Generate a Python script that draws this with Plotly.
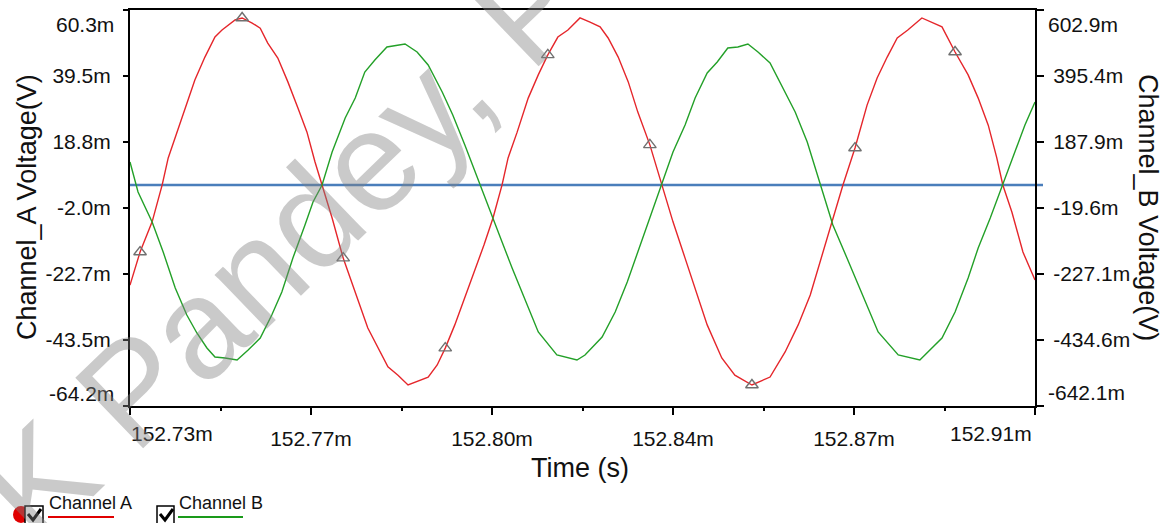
import numpy as np
import plotly.graph_objects as go

# ---------------- data (time in ms, voltages in mV) ----------------
time_a = [152.7300, 152.7320, 152.7344, 152.7364, 152.7376, 152.7393, 152.7413, 152.7429, 152.7449, 152.7469,
          152.7483, 152.7509, 152.7523, 152.7543, 152.7559, 152.7574, 152.7594, 152.7614, 152.7634, 152.7652,
          152.7668, 152.7682, 152.7702, 152.7724, 152.7748, 152.7773, 152.7813, 152.7833, 152.7853, 152.7867,
          152.7893, 152.7911, 152.7927, 152.7946, 152.7966, 152.7986, 152.8004, 152.8022, 152.8040, 152.8052,
          152.8070, 152.8092, 152.8112, 152.8131, 152.8151, 152.8171, 152.8195, 152.8215, 152.8235, 152.8251,
          152.8271, 152.8291, 152.8310, 152.8334, 152.8358, 152.8380, 152.8404, 152.8428, 152.8448, 152.8477,
          152.8503, 152.8537, 152.8573, 152.8603, 152.8629, 152.8653, 152.8672, 152.8696, 152.8718, 152.8742,
          152.8766, 152.8786, 152.8806, 152.8826, 152.8847, 152.8875, 152.8915, 152.8941, 152.8967, 152.8987,
          152.9007, 152.9024, 152.9036, 152.9054, 152.9076, 152.9100]
channel_a_mv = [-26.2, -15.8, -6.3, 5.3, 13.8, 21.9, 31.1, 38.3, 45.5, 51.8,
                54.0, 57.2, 57.8, 56.2, 54.6, 49.9, 45.2, 37.7, 29.5, 21.9,
                12.5, 5.3, -5.1, -17.7, -28.4, -39.7, -51.9, -54.5, -57.6, -56.7,
                -55.1, -51.3, -46.0, -38.7, -30.2, -21.4, -13.6, -5.1, 5.3, 13.8,
                21.9, 32.6, 39.9, 46.2, 51.8, 54.0, 57.8, 56.5, 55.0, 51.5,
                45.5, 37.7, 28.2, 17.9, 5.3, -6.3, -17.7, -29.3, -38.7, -49.1,
                -54.5, -57.6, -55.1, -47.2, -38.7, -29.3, -19.2, -6.3, 5.3, 16.9,
                30.4, 38.9, 45.5, 51.5, 54.0, 57.8, 55.0, 47.1, 39.9, 32.6,
                24.1, 13.8, 5.3, -3.2, -15.8, -24.6]

time_b = [152.7300, 152.7316, 152.7344, 152.7366, 152.7390, 152.7413, 152.7433, 152.7453, 152.7469, 152.7489,
          152.7513, 152.7535, 152.7559, 152.7582, 152.7602, 152.7624, 152.7648, 152.7664, 152.7682, 152.7702,
          152.7728, 152.7748, 152.7767, 152.7787, 152.7811, 152.7847, 152.7871, 152.7893, 152.7921, 152.7942,
          152.7966, 152.7996, 152.8020, 152.8040, 152.8060, 152.8082, 152.8112, 152.8149, 152.8189, 152.8205,
          152.8239, 152.8265, 152.8289, 152.8310, 152.8334, 152.8358, 152.8380, 152.8404, 152.8424, 152.8448,
          152.8468, 152.8489, 152.8509, 152.8529, 152.8549, 152.8573, 152.8597, 152.8623, 152.8647, 152.8672,
          152.8698, 152.8726, 152.8746, 152.8766, 152.8788, 152.8828, 152.8847, 152.8871, 152.8915, 152.8941,
          152.8967, 152.8987, 152.9011, 152.9036, 152.9060, 152.9080, 152.9100]
channel_b_mv = [125.0, 30.7, -63.6, -157.9, -271.1, -356.0, -412.6, -459.7, -488.0, -491.2,
                -497.5, -466.0, -428.3, -356.0, -283.7, -176.8, -73.0, -0.7, 52.7, 156.5,
                263.4, 326.2, 408.0, 445.7, 486.6, 496.0, 470.9, 430.0, 345.1, 272.8,
                178.5, 52.7, -41.6, -126.5, -208.2, -293.1, -409.4, -481.7, -497.5, -481.7,
                -425.2, -346.6, -252.2, -157.9, -51.0, 52.7, 156.5, 241.4, 326.2, 404.8,
                439.4, 483.4, 486.6, 496.0, 470.9, 436.3, 360.8, 282.2, 187.9, 59.0,
                -73.0, -176.8, -252.2, -324.6, -409.4, -481.7, -488.0, -497.5, -428.3, -346.6,
                -239.7, -145.3, -51.0, 52.7, 156.5, 241.4, 313.7]

marker_time = [152.7320, 152.7523, 152.7724, 152.7927, 152.8131, 152.8334, 152.8537, 152.8742, 152.8941]
marker_a_mv = [-15.8, 57.8, -17.7, -46.0, 46.2, 17.9, -57.6, 16.9, 47.1]

baseline_a_mv = 5.3

x_range = [152.73, 152.91]
x_tick_text = ["152.73m", "152.77m", "152.80m", "152.84m", "152.87m", "152.91m"]
ya_range = [-64.2, 60.3]
ya_tick_text = ["-64.2m", "-43.5m", "-22.7m", "-2.0m", "18.8m", "39.5m", "60.3m"]
yb_range = [-642.1, 602.9]
yb_tick_text = ["-642.1m", "-434.6m", "-227.1m", "-19.6m", "187.9m", "395.4m", "602.9m"]

# ---------------- figure ----------------
W, H = 1163, 523
L, R, T, B = 130, 128, 10, 117
PW, PH = W - L - R, H - T - B


def px(xp):
    return (xp - L) / PW


def py(yp):
    return (H - B - yp) / PH


FONT = "Liberation Sans, Arial, sans-serif"
TICK_SIZE = 21
x_ticks = list(np.linspace(x_range[0], x_range[1], 6))
x_minor = [(x_ticks[i] + x_ticks[i + 1]) / 2 for i in range(5)]
ya_ticks = list(np.linspace(ya_range[0], ya_range[1], 7))
yb_ticks = list(np.linspace(yb_range[0], yb_range[1], 7))

fig = go.Figure()
fig.add_trace(go.Scatter(x=time_a, y=channel_a_mv, mode="lines", name="Channel A",
                         line=dict(color="#e5262b", width=1.4), yaxis="y"))
fig.add_trace(go.Scatter(x=time_b, y=channel_b_mv, mode="lines", name="Channel B",
                         line=dict(color="#23a028", width=1.4), yaxis="y2"))
fig.add_trace(go.Scatter(x=marker_time, y=marker_a_mv, mode="markers", name="markers",
                         marker=dict(symbol="triangle-up-open", size=11, color="#707070",
                                     line=dict(width=1.4, color="#707070")), yaxis="y"))

axis_common = dict(showgrid=False, zeroline=False, showline=True, linecolor="black", linewidth=2,
                   ticks="outside", tickcolor="black", tickwidth=2, automargin=False,
                   tickfont=dict(family=FONT, size=TICK_SIZE, color="#111"))

fig.update_layout(
    width=W, height=H,
    margin=dict(l=L, r=R, t=T, b=B, pad=0, autoexpand=False),
    paper_bgcolor="white", plot_bgcolor="white",
    showlegend=False,
    font=dict(family=FONT, size=20, color="#111"),
    xaxis=dict(range=x_range, tickvals=x_ticks,
               ticktext=[""] + x_tick_text[1:-1] + [""],
               ticklen=7, mirror=True, ticklabelstandoff=6,
               minor=dict(tickvals=x_minor, ticklen=3, ticks="outside", tickcolor="black", tickwidth=1.5),
               **axis_common),
    yaxis=dict(range=ya_range, tickvals=ya_ticks,
               ticktext=[""] + ya_tick_text[1:-1] + [""],
               ticklen=5, ticklabelstandoff=8, **axis_common),
    yaxis2=dict(range=yb_range, tickvals=yb_ticks,
                ticktext=[""] + yb_tick_text[1:-1] + [""],
                overlaying="y", side="right",
                ticklen=7, ticklabelstandoff=5, **axis_common),
)

shapes = []
# blue reference line (extends slightly past the right axis)
shapes.append(dict(type="line", xref="paper", yref="y", x0=0, x1=px(1043),
                   y0=baseline_a_mv, y1=baseline_a_mv, line=dict(color="#4a7ebb", width=2.5), layer="below"))
# legend decorations
shapes.append(dict(type="circle", xref="paper", yref="paper", x0=px(13), x1=px(29), y0=py(523), y1=py(506),
                   fillcolor="#e00000", line=dict(width=0)))
for x0, x1 in [(25, 43), (157, 174)]:
    shapes.append(dict(type="rect", xref="paper", yref="paper", x0=px(x0), x1=px(x1), y0=py(528), y1=py(506),
                       fillcolor="white", line=dict(color="black", width=1.5)))
for cx in [25, 157]:
    pts = [(cx + 3, 514), (cx + 8, 520), (cx + 16, 509)]
    path = "M {} {} L {} {} L {} {}".format(px(pts[0][0]), py(pts[0][1]), px(pts[1][0]), py(pts[1][1]),
                                            px(pts[2][0]), py(pts[2][1]))
    shapes.append(dict(type="path", xref="paper", yref="paper", path=path, line=dict(color="black", width=3)))
shapes.append(dict(type="line", xref="paper", yref="paper", x0=px(48), x1=px(114), y0=py(517), y1=py(517),
                   line=dict(color="#e00000", width=2)))
shapes.append(dict(type="line", xref="paper", yref="paper", x0=px(178), x1=px(243), y0=py(517), y1=py(517),
                   line=dict(color="#1a9a1a", width=2)))
fig.update_layout(shapes=shapes)

ann = []
tf = dict(family=FONT, size=TICK_SIZE, color="#111")
# end tick labels pulled inside
ann.append(dict(text=ya_tick_text[-1], xref="paper", yref="paper", x=px(116), y=py(25),
                xanchor="right", yanchor="middle", showarrow=False, font=tf))
ann.append(dict(text=ya_tick_text[0], xref="paper", yref="paper", x=px(116), y=py(393),
                xanchor="right", yanchor="middle", showarrow=False, font=tf))
ann.append(dict(text=yb_tick_text[-1], xref="paper", yref="paper", x=px(1046), y=py(25),
                xanchor="left", yanchor="middle", showarrow=False, font=tf))
ann.append(dict(text=yb_tick_text[0], xref="paper", yref="paper", x=px(1046), y=py(392),
                xanchor="left", yanchor="middle", showarrow=False, font=tf))
ann.append(dict(text=x_tick_text[0], xref="paper", yref="paper", x=px(129), y=py(433),
                xanchor="left", yanchor="middle", showarrow=False, font=tf))
ann.append(dict(text=x_tick_text[-1], xref="paper", yref="paper", x=px(1034), y=py(433),
                xanchor="right", yanchor="middle", showarrow=False, font=tf))
# axis titles
titf = dict(family=FONT, size=27, color="#111")
ann.append(dict(text="Time (s)", xref="paper", yref="paper", x=px(580), y=py(468),
                xanchor="center", yanchor="middle", showarrow=False, font=titf))
ann.append(dict(text="Channel_A Voltage(V)", xref="paper", yref="paper", x=px(27), y=py(207),
                xanchor="center", yanchor="middle", textangle=-90, showarrow=False, font=titf))
ann.append(dict(text="Channel_B Voltage(V)", xref="paper", yref="paper", x=px(1148), y=py(207),
                xanchor="center", yanchor="middle", textangle=90, showarrow=False, font=titf))
# legend labels
lf = dict(family=FONT, size=18, color="#111")
ann.append(dict(text="Channel A", xref="paper", yref="paper", x=px(47), y=py(503),
                xanchor="left", yanchor="middle", showarrow=False, font=lf))
ann.append(dict(text="Channel B", xref="paper", yref="paper", x=px(177), y=py(503),
                xanchor="left", yanchor="middle", showarrow=False, font=lf))
# watermark
ann.append(dict(text="K Pandey, P", xref="paper", yref="paper", x=px(284), y=py(244),
                xanchor="center", yanchor="middle", textangle=-44, showarrow=False,
                font=dict(family=FONT, size=142, color="rgba(128,128,128,0.42)")))
fig.update_layout(annotations=ann)

fig.write_html(
    "out.html",
    config={"displayModeBar": False},
    post_script="document.body.style.margin='0';document.body.style.padding='0';"
                "document.documentElement.style.overflow='hidden';",
)
